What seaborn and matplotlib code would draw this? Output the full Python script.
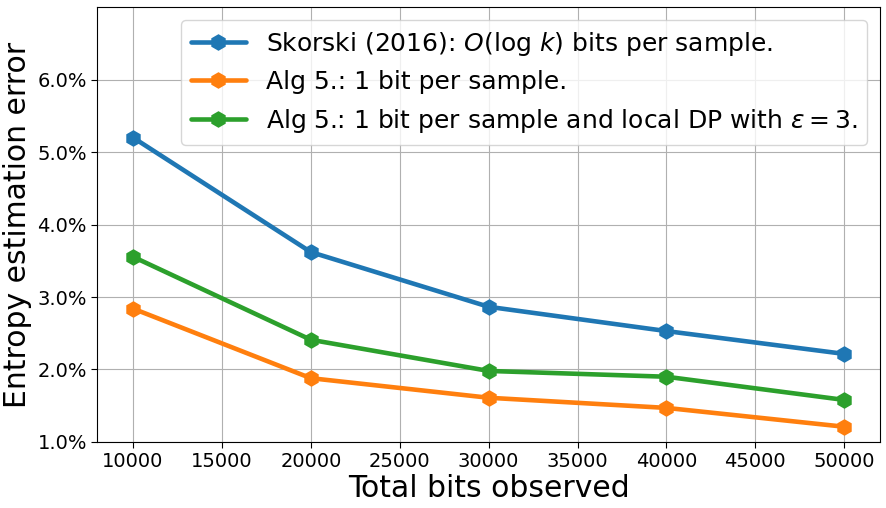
import numpy as np
import pandas as pd
import matplotlib
matplotlib.use('Agg')
import matplotlib.pyplot as plt
from matplotlib.ticker import FuncFormatter
import seaborn as sns

# values (error in %)
bits = [10000, 20000, 30000, 40000, 50000]
skorski = [5.20, 3.62, 2.865, 2.53, 2.215]
alg5 = [2.84, 1.88, 1.61, 1.47, 1.21]
alg5_dp = [3.555, 2.41, 1.98, 1.90, 1.58]

labels = [r'Skorski (2016): $O(\log\,k)$ bits per sample.',
          'Alg 5.: 1 bit per sample.',
          r'Alg 5.: 1 bit per sample and local DP with $\varepsilon=3$.']

df = pd.DataFrame({
    'bits': bits * 3,
    'error': np.array(skorski + alg5 + alg5_dp) / 100,
    'method': [labels[0]] * 5 + [labels[1]] * 5 + [labels[2]] * 5,
})

sns.set_style('white', {'text.color': 'black', 'axes.labelcolor': 'black',
                        'xtick.color': 'black', 'ytick.color': 'black',
                        'axes.edgecolor': 'black'})
plt.rcParams['font.family'] = ['DejaVu Sans']

fig, ax = plt.subplots(figsize=(8.86, 5.08), dpi=100)
sns.lineplot(data=df, x='bits', y='error', hue='method', hue_order=labels,
             palette=['#1f77b4', '#ff7f0e', '#2ca02c'], marker='h',
             markersize=12, markeredgewidth=0, linewidth=3.3, ax=ax)

ax.set_ylim(0.01, 0.07)
ax.set_yticks([0.01, 0.02, 0.03, 0.04, 0.05, 0.06])
ax.yaxis.set_major_formatter(FuncFormatter(lambda v, p: f'{v*100:.1f}%'))
ax.set_xticks(np.arange(10000, 50001, 5000))
ax.grid(True, color='#b0b0b0', linewidth=0.8)
for s in ax.spines.values():
    s.set_color('black')
    s.set_linewidth(0.8)
ax.tick_params(axis='both', labelsize=14, length=4, color='black', direction='out',
               bottom=True, left=True)

ax.set_xlabel('Total bits observed', fontsize=21.5, labelpad=2)
ax.set_ylabel('Entropy estimation error', fontsize=21.5)
ax.legend(loc='upper right', fontsize=18, handlelength=2.2, framealpha=0.8)

plt.subplots_adjust(left=0.11, right=0.993, top=0.986, bottom=0.13)
plt.savefig('out.png', dpi=100)
